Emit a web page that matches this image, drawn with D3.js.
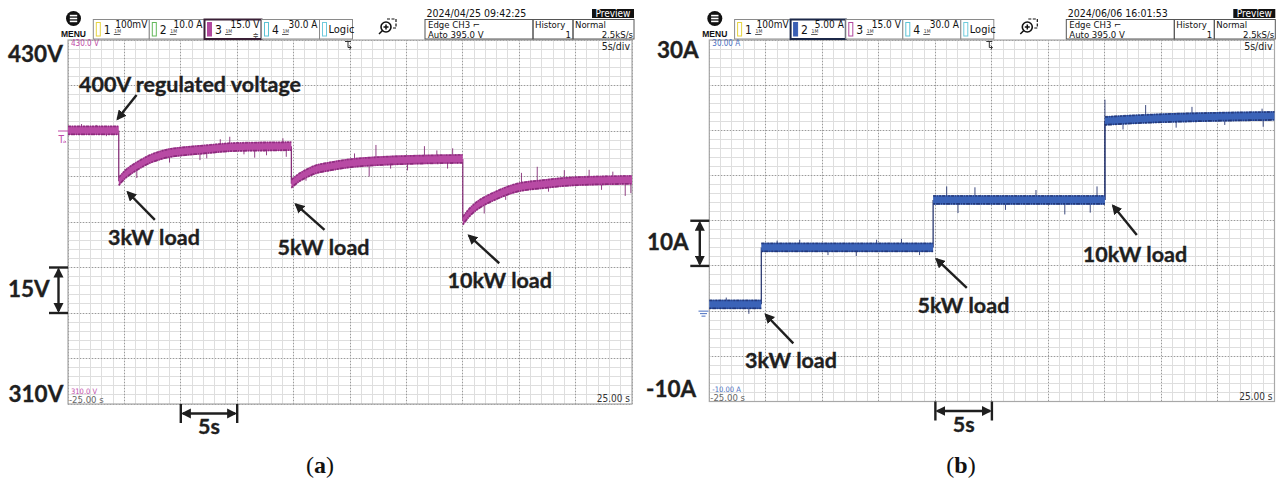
<!DOCTYPE html>
<html><head><meta charset="utf-8">
<script src="https://cdn.jsdelivr.net/npm/d3@7"></script>
<style>
body{margin:0;background:#fff;}
svg{display:block;}
.osc{font-family:"Liberation Sans Narrow","DejaVu Sans",sans-serif;font-stretch:condensed;}
.ann{font-family:Lato,"Open Sans",sans-serif;font-weight:700;fill:#1f1f1f;stroke:#1f1f1f;stroke-width:0.35px;}
</style></head><body>
<svg id="c" width="1278" height="479"></svg>
<script>
// ---------------- data ----------------
const timeDomain = [-25, 25];
const timeMajor = [-25,-20,-15,-10,-5,0,5,10,15,20,25];
const timeTickLabels = ["-25.00 s", "25.00 s"];

const voltDomain = [310, 430];
const voltMajor = [310,325,340,355,370,385,400,415,430];
const voltTickLabels = ["430.0 V", "310.0 V"];
const voltAxisLabels = ["430V", "15V", "310V"];

const currDomain = [-10, 30];
const currMajor = [-10,-5,0,5,10,15,20,25,30];
const currTickLabels = ["30.00 A", "-10.00 A"];
const currAxisLabels = ["30A", "10A", "-10A"];

// output voltage (V) vs time (s); repeated times are the load steps
const voltT = [-25,-20.5, -20.5,-19.9,-19.2,-18.4,-17.7,-16.3,-14.8,-13.3,-10.4,-7.5,-5.2,
               -5.2,-4.45,-3.8,-3.3,-1.8,-0.33,2.6,5.5,10.0,
               10.0,10.6,11.1,11.5,12.9,14.4,17.4,20.3,25];
const voltV = [400.2,400.2, 383.4,385.8,387.7,389.5,390.8,392.5,393.3,393.8,394.7,394.9,395.0,
               382.6,384.8,386.1,387.0,388.3,389.2,390.1,390.5,390.8,
               370.4,373.2,374.9,376.0,378.7,380.9,382.6,383.5,383.9];
const voltSpikeT = [-23.8,-22.5,-21.6,-18.9,-16.0,-13.3,-12.7,-11.5,-10.66,-9.4,-8.45,-7.4,-5.95,-5.65,-3.9,-1.5,0.4,1.7,2.3,3.6,5.1,6.6,7.7,8.65,9.1,11.9,13.8,15.2,16.6,17.6,19.0,21.2,22.3,23.3,24.4,24.9];
const voltSpikeV = [402.3,402.0,398.3,384.5,389.6,390.4,391.0,397.3,398.1,392.3,391.2,392.0,397.6,391.5,383.6,387.1,392.6,385.0,395.4,387.6,387.0,395.0,393.6,387.6,394.3,372.8,377.3,386.2,388.2,380.0,387.1,387.2,380.6,386.6,378.6,379.5];

// input current (A) vs time (s)
const currT = [-25,-20.4, -20.4,-5.2, -5.2,10.0, 10.0,14,18,25];
const currI = [0.75,0.75, 7.05,7.05, 12.3,12.3, 21.05,21.3,21.45,21.6];
const currSpikeT = [-23.5,-21.5,-19.0,-17.0,-14.5,-12.0,-10.2,-8.0,-6.4,-4.0,-3.0,-1.5,1.2,3.9,6.45,8.7,9.3,10.0,11.6,13.6,16.3,17.7,20.6,23.9,24.0];
const currSpikeI = [1.5,-0.3,7.8,7.9,6.2,6.1,7.9,8.0,6.2,13.8,10.85,13.7,11.2,13.4,10.7,10.9,13.8,23.4,20.1,22.8,20.3,22.6,20.6,22.4,20.4];

const channelScalesA = ["100mV","10.0 A","15.0 V","30.0 A"];
const channelScalesB = ["100mV","5.00 A","15.0 V","30.0 A"];

// ---------------- drawing ----------------
const svg = d3.select('#c');
const defs = svg.append('defs');
defs.append('marker').attr('id','ah').attr('viewBox','0 0 10 10').attr('refX',8).attr('refY',5)
  .attr('markerWidth',4.2).attr('markerHeight',4.2).attr('orient','auto-start-reverse')
  .append('path').attr('d','M0,0 L10,5 L0,10 z').attr('fill','#1f1f1f');

function segs(ts, vs){
  const out=[]; let cur=[];
  ts.forEach((t,i)=>{ if(i>0 && t===ts[i-1]){ out.push(cur); cur=[]; } cur.push([t,vs[i]]); });
  out.push(cur); return out;
}
function interp(s,t){
  for(let i=1;i<s.length;i++){ if(t<=s[i][0]){ const a=s[i-1],b=s[i]; return a[1]+(b[1]-a[1])*(t-a[0])/(b[0]-a[0]); } }
  return s[s.length-1][1];
}

function drawPanel(cfg){
  const g = svg.append('g');
  const x = d3.scaleLinear().domain(timeDomain).range([cfg.x0,cfg.x1]);
  const y = d3.scaleLinear().domain(cfg.domain).range([cfg.y1,cfg.y0]);
  const ox = cfg.x0;

  g.append('rect').attr('x',cfg.x0).attr('y',cfg.y0).attr('width',cfg.x1-cfg.x0).attr('height',cfg.y1-cfg.y0).attr('fill','#fff');
  const minorT = d3.range(timeDomain[0], timeDomain[1]+0.01, 1);
  const dv = (cfg.domain[1]-cfg.domain[0])/40;
  const minorV = d3.range(0,41).map(i=>cfg.domain[0]+i*dv);
  g.append('g').selectAll('line').data(minorT).join('line')
    .attr('x1',d=>x(d)).attr('x2',d=>x(d)).attr('y1',cfg.y0).attr('y2',cfg.y1)
    .attr('stroke','#dedede').attr('stroke-width',1).attr('shape-rendering','crispEdges');
  g.append('g').selectAll('line').data(minorV).join('line')
    .attr('y1',d=>y(d)).attr('y2',d=>y(d)).attr('x1',cfg.x0).attr('x2',cfg.x1)
    .attr('stroke','#dedede').attr('stroke-width',1).attr('shape-rendering','crispEdges');
  g.append('g').selectAll('line').data(timeMajor).join('line')
    .attr('x1',d=>x(d)).attr('x2',d=>x(d)).attr('y1',cfg.y0).attr('y2',cfg.y1)
    .attr('stroke','#9a9a9a').attr('stroke-dasharray','1,2').attr('shape-rendering','crispEdges');
  g.append('g').selectAll('line').data(cfg.major).join('line')
    .attr('y1',d=>y(d)).attr('y2',d=>y(d)).attr('x1',cfg.x0).attr('x2',cfg.x1)
    .attr('stroke','#9a9a9a').attr('stroke-dasharray','1,2').attr('shape-rendering','crispEdges');
  g.append('rect').attr('x',cfg.x0).attr('y',cfg.y0).attr('width',cfg.x1-cfg.x0).attr('height',cfg.y1-cfg.y0)
    .attr('fill','none').attr('stroke','#a8a8a8').attr('stroke-width',1.2);

  const S = segs(cfg.t, cfg.v);
  const hw = cfg.hw;
  const area = d3.area().x(d=>x(d[0])).y0(d=>y(d[1]-hw)).y1(d=>y(d[1]+hw)).curve(d3.curveMonotoneX);
  const top = d3.line().x(d=>x(d[0])).y(d=>y(d[1]+hw*0.85)).curve(d3.curveMonotoneX);
  const bot = d3.line().x(d=>x(d[0])).y(d=>y(d[1]-hw*0.85)).curve(d3.curveMonotoneX);
  const tg = g.append('g');
  for(let i=1;i<S.length;i++){
    const a=S[i-1][S[i-1].length-1], b=S[i][0];
    tg.append('line').attr('x1',x(b[0])).attr('x2',x(b[0])).attr('y1',y(a[1])).attr('y2',y(b[1]))
      .attr('stroke',cfg.dark).attr('stroke-width',1.2);
  }
  tg.selectAll('line.sp').data(cfg.st.map((t,i)=>[t,cfg.sv[i]])).join('line').attr('class','sp')
    .attr('x1',d=>x(d[0])).attr('x2',d=>x(d[0]))
    .attr('y1',d=>{ const s=S.find(s=>d[0]>=s[0][0]&&d[0]<=s[s.length-1][0]); return y(interp(s,d[0])); })
    .attr('y2',d=>y(d[1])).attr('stroke',cfg.dark).attr('stroke-width',1).attr('stroke-opacity',0.85);
  S.forEach(s=>{
    tg.append('path').attr('d',area(s)).attr('fill',cfg.color);
    tg.append('path').attr('d',top(s)).attr('fill','none').attr('stroke',cfg.dark).attr('stroke-width',1.8).attr('stroke-opacity',0.7).attr('stroke-dasharray','3,1,1,1,2,1');
    tg.append('path').attr('d',bot(s)).attr('fill','none').attr('stroke',cfg.dark).attr('stroke-width',1.8).attr('stroke-opacity',0.8).attr('stroke-dasharray','2,1,4,1,1,1');
  });

  g.append('text').attr('class','osc').attr('x',ox+3).attr('y',cfg.y0+6).attr('font-size',8).attr('fill',cfg.labelColor).text(cfg.tickLabels[0]);
  g.append('text').attr('class','osc').attr('x',ox+3).attr('y',cfg.y1-10).attr('font-size',7.5).attr('fill',cfg.labelColor).text(cfg.tickLabels[1]);
  g.append('text').attr('class','osc').attr('x',ox+1).attr('y',cfg.y1-1).attr('font-size',9.5).attr('fill','#666').text(timeTickLabels[0]);
  g.append('text').attr('class','osc').attr('x',cfg.x1-2).attr('y',cfg.y1-2).attr('font-size',10).attr('text-anchor','end').attr('fill','#333').text(timeTickLabels[1]);
  g.append('text').attr('class','osc').attr('x',cfg.x1-2).attr('y',cfg.y0+10).attr('font-size',10.5).attr('text-anchor','end').attr('fill','#222').text('5s/div');
  const tx = ox+280;
  g.append('path').attr('d',`M${tx-3},${cfg.y0+1.5} h6 M${tx},${cfg.y0+1.5} v6 M${tx},${cfg.y0+7.5} h3 l-1.5,-2 M${tx+3},${cfg.y0+7.5} l-1.5,2`)
    .attr('stroke','#333').attr('stroke-width',1).attr('fill','none');

  drawHeader(g, cfg, ox);

  cfg.notes.forEach(n=>{
    g.append('text').attr('class','ann').attr('x',x(n.t)).attr('y',y(n.v)).attr('font-size',21.5).text(n.text);
    g.append('line').attr('x1',x(n.from[0])).attr('y1',y(n.from[1])).attr('x2',x(n.to[0])).attr('y2',y(n.to[1]))
      .attr('stroke','#1f1f1f').attr('stroke-width',2.4).attr('marker-end','url(#ah)');
  });
  cfg.axisLabels.forEach(a=>{
    g.append('text').attr('class','ann').attr('x',a.x).attr('y',a.y).attr('font-size',22.5).text(a.text);
  });
  const b = cfg.vbracket;
  [b[0],b[1]].forEach(v=>g.append('line').attr('x1',cfg.x0-19).attr('x2',cfg.x0).attr('y1',y(v)).attr('y2',y(v)).attr('stroke','#1f1f1f').attr('stroke-width',2.4));
  g.append('line').attr('x1',cfg.x0-9.5).attr('x2',cfg.x0-9.5).attr('y1',y(b[1])+2).attr('y2',y(b[0])-2)
    .attr('stroke','#1f1f1f').attr('stroke-width',2.4).attr('marker-end','url(#ah)').attr('marker-start','url(#ah)');
  const tb = cfg.tbracket;
  [tb[0],tb[1]].forEach(t=>g.append('line').attr('x1',x(t)).attr('x2',x(t)).attr('y1',cfg.y1).attr('y2',cfg.y1+19).attr('stroke','#1f1f1f').attr('stroke-width',2.4));
  g.append('line').attr('x1',x(tb[0])+2).attr('x2',x(tb[1])-2).attr('y1',cfg.y1+9.5).attr('y2',cfg.y1+9.5)
    .attr('stroke','#1f1f1f').attr('stroke-width',2.4).attr('marker-end','url(#ah)').attr('marker-start','url(#ah)');
  g.append('text').attr('class','ann').attr('x',(x(tb[0])+x(tb[1]))/2).attr('y',cfg.y1+30).attr('font-size',21.5).attr('text-anchor','middle').text('5s');
  cfg.marker(g, x, y);
  const cap = g.append('text').attr('x',cfg.capX).attr('y',473).attr('text-anchor','middle')
    .attr('font-family','"Liberation Serif","DejaVu Serif",serif').attr('font-size',24).attr('fill','#111');
  cap.append('tspan').text('(');
  cap.append('tspan').attr('font-weight',700).text(cfg.cap);
  cap.append('tspan').text(')');
}

function drawHeader(g, cfg, ox){
  const h = g.append('g').attr('class','osc');
  h.append('circle').attr('cx',ox+5.5).attr('cy',18.5).attr('r',7.5).attr('fill','#111');
  [15.6,18.5,21.4].forEach(yy=>h.append('line').attr('x1',ox+1.8).attr('x2',ox+9.2).attr('y1',yy).attr('y2',yy).attr('stroke','#fff').attr('stroke-width',1.6));
  h.append('text').attr('x',ox+5.5).attr('y',36.5).attr('text-anchor','middle').attr('font-size',8.5).attr('font-weight',700)
    .attr('font-family','"Liberation Sans",Arial,sans-serif').attr('fill','#111').text('MENU');
  const starts = [25.3,81.3,136.5,193.5,251.5,284.5];
  const cols = ['#e6d440','#62b85a','#b2489e','#5cc4d6','#6fcbdc'];
  for(let i=0;i<5;i++){
    const bx = ox+starts[i], bw = starts[i+1]-starts[i];
    const active = (i===cfg.activeCh);
    h.append('rect').attr('x',bx).attr('y',19.5).attr('width',bw).attr('height',19.5)
      .attr('fill','#fff').attr('stroke',active?cfg.activeBorder:'#8a8a8a').attr('stroke-width',active?2:1);
    const col = (i===1 && cfg.activeCh===1) ? '#3a5fb4' : cols[i];
    h.append('rect').attr('x',bx+3).attr('y',22.5).attr('width',4).attr('height',13.5)
      .attr('fill',active?col:'none').attr('stroke',col).attr('stroke-width',1);
    if(i<4){
      h.append('text').attr('x',bx+10.5).attr('y',34).attr('font-size',12).attr('fill','#111').text(String(i+1));
      h.append('text').attr('x',bx+21).attr('y',33).attr('font-size',5).attr('fill','#333').text('1M');
      h.append('line').attr('x1',bx+20.5).attr('x2',bx+27).attr('y1',34.5).attr('y2',34.5).attr('stroke','#333').attr('stroke-width',0.8);
      h.append('text').attr('x',bx+bw-2).attr('y',27.5).attr('font-size',10).attr('text-anchor','end').attr('fill','#111').text(cfg.scales[i]);
      if(i===2 && cfg.activeCh===2){
        h.append('text').attr('x',bx+bw-3).attr('y',37.5).attr('font-size',8).attr('text-anchor','end').attr('fill','#333').text('≑');
      }
    } else {
      h.append('text').attr('x',bx+9).attr('y',33).attr('font-size',11).attr('fill','#111').text('Logic');
    }
  }
  const zx = ox+318, zy = 27;
  h.append('circle').attr('cx',zx).attr('cy',zy).attr('r',5).attr('fill','none').attr('stroke','#111').attr('stroke-width',1.6);
  h.append('path').attr('d',`M${zx-2.5},${zy} h5 M${zx},${zy-2.5} v5 M${zx-3.5},${zy+3.5} l-3.5,3.5`).attr('stroke','#111').attr('stroke-width',1.5);
  h.append('path').attr('d',`M${zx+1},${zy-8} h9 v9 h-3`).attr('fill','none').attr('stroke','#111').attr('stroke-width',1.2).attr('stroke-dasharray','3,1.5');
  h.append('text').attr('x',ox+358.5).attr('y',16.5).attr('font-size',10.5).attr('fill','#111').text(cfg.date);
  [[357,108],[465,40],[505,61]].forEach(b=>h.append('rect').attr('x',ox+b[0]).attr('y',19.5).attr('width',b[1]).attr('height',19.5).attr('fill','none').attr('stroke','#555').attr('stroke-width',1));
  h.append('text').attr('x',ox+360).attr('y',28).attr('font-size',9.5).attr('fill','#111').text('Edge CH3 ⌐');
  h.append('text').attr('x',ox+360).attr('y',38).attr('font-size',9.5).attr('fill','#111').text('Auto 395.0 V');
  h.append('text').attr('x',ox+467).attr('y',28).attr('font-size',9.5).attr('fill','#111').text('History');
  h.append('text').attr('x',ox+503).attr('y',38).attr('font-size',9.5).attr('text-anchor','end').attr('fill','#111').text('1');
  h.append('text').attr('x',ox+507).attr('y',28).attr('font-size',9.5).attr('fill','#111').text('Normal');
  h.append('text').attr('x',ox+565).attr('y',38).attr('font-size',9.5).attr('text-anchor','end').attr('fill','#111').text('2.5kS/s');
  h.append('rect').attr('x',ox+524).attr('y',9).attr('width',42).attr('height',9).attr('fill','#111');
  h.append('text').attr('x',ox+545).attr('y',16.8).attr('font-size',10).attr('text-anchor','middle').attr('fill','#fff').text('Preview');
}

drawPanel({
  x0:68, x1:632, y0:40, y1:404, domain:voltDomain, major:voltMajor,
  t:voltT, v:voltV, st:voltSpikeT, sv:voltSpikeV, hw:1.55,
  color:'#b84aa4', dark:'#7e2270', labelColor:'#c04aa8', tickLabels:voltTickLabels,
  activeCh:2, activeBorder:'#3a2036', scales:channelScalesA, date:'2024/04/25 09:42:25',
  notes:[
    {text:'400V regulated voltage', t:-24.03, v:412.9, from:[-18.92,411.9], to:[-20.6,404.0]},
    {text:'3kW load', t:-21.46, v:362.4, from:[-17.3,370.7], to:[-19.7,379.8]},
    {text:'5kW load', t:-6.42, v:359.1, from:[-2.26,367.4], to:[-4.8,375.8]},
    {text:'10kW load', t:8.65, v:348.1, from:[13.23,356.4], to:[10.55,365.5]}
  ],
  axisLabels:[{text:voltAxisLabels[0],x:8,y:62},{text:voltAxisLabels[1],x:8,y:297},{text:voltAxisLabels[2],x:8.5,y:402}],
  vbracket:[340,355], tbracket:[-15,-10], capX:320, cap:'a',
  marker:(g,x,y)=>{
    g.append('line').attr('x1',58).attr('x2',68).attr('y1',y(400)).attr('y2',y(400)).attr('stroke','#c04aa8').attr('stroke-width',1);
    g.append('text').attr('class','osc').attr('x',58.5).attr('y',y(396)).attr('font-size',10).attr('fill','#c04aa8').text('T');
    g.append('path').attr('d',`M63,${y(396)-1} h3 l-1.5,-1.5`).attr('stroke','#c04aa8').attr('fill','none').attr('stroke-width',0.8);
  }
});

drawPanel({
  x0:709.3, x1:1274.5, y0:40, y1:401.5, domain:currDomain, major:currMajor,
  t:currT, v:currI, st:currSpikeT, sv:currSpikeI, hw:0.52,
  color:'#3b63b8', dark:'#1c2c68', labelColor:'#4a6fc0', tickLabels:currTickLabels,
  activeCh:1, activeBorder:'#1c2848', scales:channelScalesB, date:'2024/06/06 16:01:53',
  notes:[
    {text:'3kW load', t:-21.84, v:-6.33, from:[-17.57,-3.56], to:[-20.0,-0.4]},
    {text:'5kW load', t:-6.59, v:-0.24, from:[-2.22,2.56], to:[-4.9,5.75]},
    {text:'10kW load', t:8.04, v:5.47, from:[12.82,8.42], to:[10.72,11.66]}
  ],
  axisLabels:[{text:currAxisLabels[0],x:657,y:58},{text:currAxisLabels[1],x:647,y:250},{text:currAxisLabels[2],x:646,y:397}],
  vbracket:[5,10], tbracket:[-5,0], capX:961, cap:'b',
  marker:(g,x,y)=>{
    const y0=y(0);
    [[10,0],[7,2.5],[4,5]].forEach(d=>g.append('line').attr('x1',703.5-d[0]/2).attr('x2',703.5+d[0]/2).attr('y1',y0+d[1]).attr('y2',y0+d[1]).attr('stroke','#4a6fc0').attr('stroke-width',1));
  }
});
</script>
</body></html>
